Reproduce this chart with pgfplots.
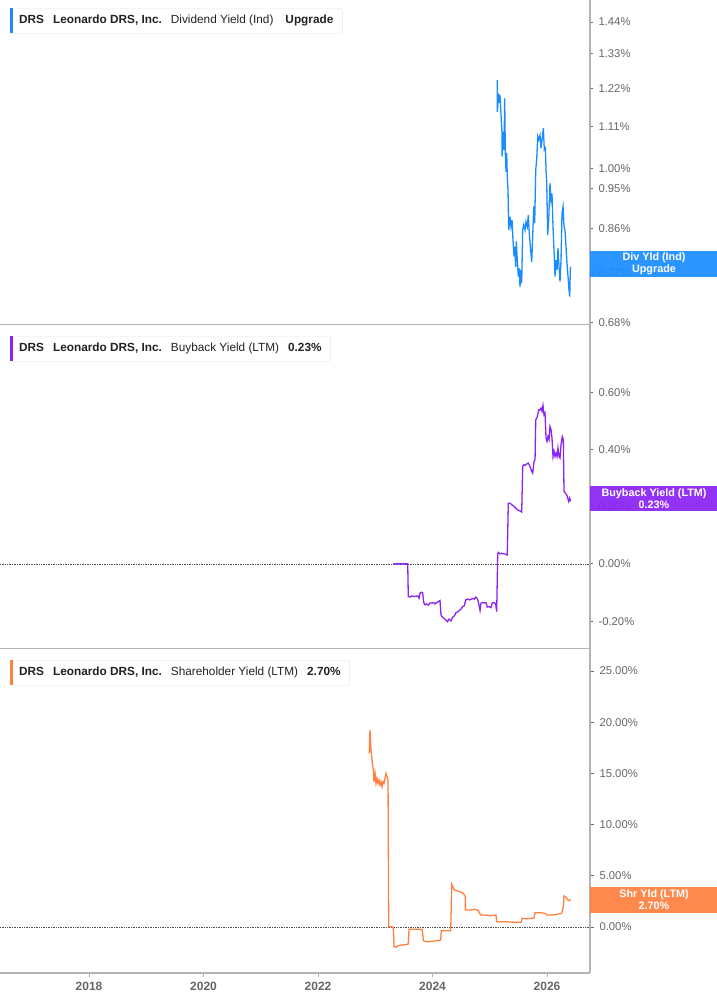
\documentclass[border=0pt]{standalone}
\usepackage{pgfplots}
\pgfplotsset{compat=1.18}
\usepackage{fontspec}
\setmainfont{Liberation Sans}
\definecolor{cblue}{HTML}{1A8CFF}
\definecolor{cpurp}{HTML}{8A24F2}
\definecolor{corng}{HTML}{FF8040}
\definecolor{axgray}{HTML}{B4B4B4}
\definecolor{tickgray}{HTML}{666666}
\definecolor{txt}{HTML}{222222}
\pgfplotsset{panel/.style={
  scale only axis, width=590pt, xmin=2016.445, xmax=2026.751,
  axis x line*=bottom, axis y line*=right,
  x axis line style={axgray, line width=1pt},
  y axis line style={axgray, line width=2pt},
  tick align=outside, major tick length=3pt,
  ytick style={tickgray, line width=0.8pt},
  yticklabel style={font=\fontsize{11.3}{13}\selectfont, text=tickgray, anchor=west, xshift=2pt},
  xtick=\empty,
  clip=true,
}}
\begin{document}
\begin{tikzpicture}
\path[use as bounding box] (0pt,0pt) rectangle (717pt,-1005pt);
% ---------- Panel 1: Dividend yield (log) ----------
\begin{axis}[panel, name=ax1, at={(0pt,0pt)}, anchor=north west, height=324pt,
  ymode=log, ymin=0.678, ymax=1.521,
  ytick={0.68,0.77,0.86,0.95,1.00,1.11,1.22,1.33,1.44},
  yticklabels={0.68\%,0.77\%,0.86\%,0.95\%,1.00\%,1.11\%,1.22\%,1.33\%,1.44\%}]
\addplot[cblue, line width=1.3pt] coordinates {
(2025.132,1.246) (2025.132,1.151) (2025.156,1.205) (2025.167,1.177) (2025.179,1.200)
(2025.197,1.142) (2025.214,1.092) (2025.214,1.029) (2025.237,1.095) (2025.249,1.047)
(2025.261,1.190) (2025.272,1.039) (2025.284,0.991) (2025.296,1.039) (2025.306,0.979)
(2025.319,0.947) (2025.331,0.857) (2025.354,0.886) (2025.371,0.864) (2025.389,0.879)
(2025.406,0.836) (2025.424,0.802) (2025.436,0.822) (2025.453,0.782) (2025.464,0.833)
(2025.481,0.795) (2025.499,0.763) (2025.516,0.779) (2025.528,0.744) (2025.546,0.776)
(2025.558,0.751) (2025.575,0.857) (2025.593,0.868) (2025.616,0.857) (2025.633,0.875)
(2025.656,0.864) (2025.673,0.890) (2025.691,0.850) (2025.709,0.822) (2025.733,0.792)
(2025.750,0.843) (2025.768,0.909) (2025.785,0.872) (2025.803,0.996) (2025.820,1.021)
(2025.838,1.082) (2025.855,1.073) (2025.878,1.086) (2025.895,1.051) (2025.913,1.073)
(2025.936,1.105) (2025.953,1.047) (2025.971,1.051) (2025.983,0.996) (2025.995,0.964)
(2026.012,0.847) (2026.030,0.879) (2026.052,0.963) (2026.070,0.924) (2026.087,0.939)
(2026.105,0.864) (2026.122,0.815) (2026.140,0.763) (2026.157,0.795) (2026.175,0.776)
(2026.192,0.819) (2026.210,0.782) (2026.227,0.754) (2026.245,0.795) (2026.262,0.894)
(2026.280,0.909) (2026.297,0.864) (2026.314,0.857) (2026.332,0.822) (2026.349,0.789)
(2026.367,0.763) (2026.384,0.738) (2026.397,0.726) (2026.407,0.776) (2026.414,0.782)
};
\end{axis}
% ---------- Panel 2: Buyback yield ----------
\begin{axis}[panel, name=ax2, at={(0pt,-324pt)}, anchor=north west, height=324pt,
  ymin=-0.294, ymax=0.838,
  ytick={-0.2,0,0.2,0.4,0.6},
  yticklabels={-0.20\%,0.00\%,0.20\%,0.40\%,0.60\%}]
\addplot[black!70, densely dotted, line width=0.7pt] coordinates {(2016.445,0) (2026.751,0)};
\addplot[cpurp, line width=1.3pt] coordinates {
(2023.315,0) (2023.567,0) (2023.577,-0.114) (2023.607,-0.116) (2023.637,-0.112)
(2023.694,-0.114) (2023.741,-0.112) (2023.764,-0.120) (2023.782,-0.102) (2023.811,-0.099)
(2023.829,-0.102) (2023.846,-0.135) (2023.869,-0.143) (2023.899,-0.140) (2023.927,-0.144)
(2023.956,-0.137) (2023.986,-0.137) (2024.014,-0.135) (2024.044,-0.140) (2024.073,-0.135)
(2024.101,-0.132) (2024.131,-0.128) (2024.148,-0.178) (2024.171,-0.186) (2024.201,-0.190)
(2024.231,-0.196) (2024.259,-0.202) (2024.288,-0.193) (2024.323,-0.199) (2024.353,-0.186)
(2024.381,-0.182) (2024.410,-0.170) (2024.440,-0.168) (2024.468,-0.163) (2024.498,-0.158)
(2024.527,-0.149) (2024.555,-0.147) (2024.580,-0.126) (2024.615,-0.123) (2024.655,-0.126)
(2024.695,-0.121) (2024.730,-0.123) (2024.755,-0.116) (2024.777,-0.120) (2024.800,-0.132)
(2024.830,-0.163) (2024.847,-0.137) (2024.870,-0.135) (2024.905,-0.137) (2024.934,-0.135)
(2024.957,-0.151) (2024.987,-0.149) (2025.022,-0.153) (2025.044,-0.137) (2025.079,-0.135)
(2025.104,-0.141) (2025.121,-0.167) (2025.139,0.035) (2025.149,0.040) (2025.179,0.035)
(2025.208,0.037) (2025.266,0.034) (2025.306,0.031) (2025.324,0.212) (2025.354,0.212)
(2025.389,0.206) (2025.424,0.200) (2025.453,0.195) (2025.481,0.189) (2025.528,0.185)
(2025.558,0.181) (2025.575,0.340) (2025.593,0.346) (2025.616,0.344) (2025.646,0.349)
(2025.673,0.352) (2025.703,0.340) (2025.733,0.323) (2025.750,0.317) (2025.773,0.358)
(2025.791,0.364) (2025.803,0.503) (2025.832,0.515) (2025.855,0.538) (2025.878,0.538)
(2025.895,0.544) (2025.913,0.533) (2025.930,0.553) (2025.948,0.521) (2025.965,0.527)
(2025.983,0.440) (2026.000,0.428) (2026.017,0.445) (2026.035,0.434) (2026.052,0.480)
(2026.070,0.469) (2026.087,0.440) (2026.105,0.375) (2026.122,0.393) (2026.140,0.375)
(2026.157,0.387) (2026.175,0.375) (2026.192,0.405) (2026.210,0.375) (2026.227,0.370)
(2026.245,0.416) (2026.267,0.445) (2026.285,0.434) (2026.297,0.253) (2026.320,0.247)
(2026.344,0.241) (2026.362,0.230) (2026.379,0.218) (2026.396,0.230) (2026.412,0.218)
};
\end{axis}
% ---------- Panel 3: Shareholder yield ----------
\begin{axis}[panel, name=ax3, at={(0pt,-648pt)}, anchor=north west, height=325pt,
  ymin=-4.49, ymax=27.25,
  ytick={0,5,10,15,20,25},
  yticklabels={0.00\%,5.00\%,10.00\%,15.00\%,20.00\%,25.00\%},
  x axis line style={axgray, line width=2pt},
  major tick length=4pt,
  xtick={2018,2020,2022,2024,2026},
  xticklabels={2018,2020,2022,2024,2026},
  xtick style={axgray, line width=1pt},
  xticklabel style={font=\bfseries\fontsize{12}{14}\selectfont, text=tickgray, yshift=-2pt}]
\addplot[black!70, densely dotted, line width=0.7pt] coordinates {(2016.445,0) (2026.751,0)};
\addplot[corng, line width=1.3pt] coordinates {
(2022.896,16.96) (2022.908,19.24) (2022.926,17.29) (2022.943,16.31) (2022.966,15.33)
(2022.978,14.19) (2022.996,15.01) (2023.013,14.03) (2023.031,14.52) (2023.048,14.03)
(2023.066,14.36) (2023.083,13.87) (2023.100,14.19) (2023.118,13.70) (2023.135,14.19)
(2023.153,14.03) (2023.170,14.52) (2023.188,15.01) (2023.205,14.68) (2023.223,14.36)
(2023.235,0.03) (2023.287,0.03) (2023.315,-0.03) (2023.328,-1.92) (2023.362,-1.98)
(2023.385,-1.86) (2023.420,-1.79) (2023.462,-1.76) (2023.520,-1.73) (2023.577,-1.66)
(2023.590,-0.22) (2023.665,-0.22) (2023.752,-0.22) (2023.822,-0.26) (2023.839,-1.34)
(2023.899,-1.44) (2023.986,-1.40) (2024.073,-1.34) (2024.143,-1.27) (2024.154,-0.36)
(2024.218,-0.36) (2024.318,-0.36) (2024.336,4.17) (2024.376,3.68) (2024.423,3.54)
(2024.480,3.45) (2024.538,3.29) (2024.573,2.96) (2024.574,1.66) (2024.655,1.66)
(2024.742,1.73) (2024.800,1.59) (2024.842,1.17) (2024.917,1.17) (2025.004,1.10)
(2025.109,1.17) (2025.121,0.52) (2025.237,0.52) (2025.354,0.49) (2025.471,0.46)
(2025.550,0.46) (2025.563,0.85) (2025.645,0.81) (2025.733,0.85) (2025.773,0.88)
(2025.790,1.40) (2025.878,1.40) (2025.965,1.34) (2025.995,1.17) (2026.082,1.17)
(2026.170,1.24) (2026.257,1.34) (2026.285,1.98) (2026.297,3.03) (2026.332,2.90)
(2026.355,2.71) (2026.379,2.57) (2026.402,2.64) (2026.415,2.70)
};
\end{axis}
% ---------- Badges ----------
\fill[cblue, opacity=0.93] (590pt,-250.7pt) rectangle (717pt,-276.7pt);
\node[white, font=\bfseries\fontsize{10.8}{12}\selectfont, align=center] at (654pt,-263.7pt) {Div Yld (Ind)\\Upgrade};
\fill[cpurp, opacity=0.93] (590pt,-485.7pt) rectangle (717pt,-511.3pt);
\node[white, font=\bfseries\fontsize{10.8}{12}\selectfont, align=center] at (654pt,-498.5pt) {Buyback Yield (LTM)\\0.23\%};
\fill[corng, opacity=0.93] (590pt,-886.7pt) rectangle (717pt,-912.7pt);
\node[white, font=\bfseries\fontsize{10.8}{12}\selectfont, align=center] at (654pt,-899.7pt) {Shr Yld (LTM)\\2.70\%};
% ---------- Legend boxes ----------
\tikzset{lg/.style={draw=black!10, fill=white, rounded corners=2pt, anchor=north west,
  inner xsep=9pt, minimum height=25pt, text=txt, font=\fontsize{11.8}{13}\selectfont}}
\node[lg] (L1) at (10pt,-8pt) {\textbf{DRS}\hspace{9pt}\textbf{Leonardo DRS, Inc.}\hspace{9pt}Dividend Yield (Ind)\hspace{12pt}\textbf{Upgrade}};
\fill[cblue] (L1.north west) rectangle ([xshift=3pt]L1.south west);
\node[lg] (L2) at (10pt,-336pt) {\textbf{DRS}\hspace{9pt}\textbf{Leonardo DRS, Inc.}\hspace{9pt}Buyback Yield (LTM)\hspace{9pt}\textbf{0.23\%}};
\fill[cpurp] (L2.north west) rectangle ([xshift=3pt]L2.south west);
\node[lg] (L3) at (10pt,-660pt) {\textbf{DRS}\hspace{9pt}\textbf{Leonardo DRS, Inc.}\hspace{9pt}Shareholder Yield (LTM)\hspace{9pt}\textbf{2.70\%}};
\fill[corng] (L3.north west) rectangle ([xshift=3pt]L3.south west);
\end{tikzpicture}
\end{document}
